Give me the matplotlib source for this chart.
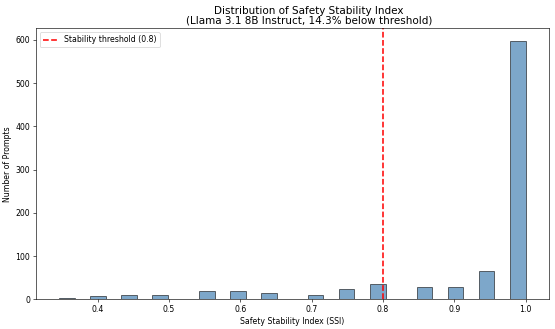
import matplotlib
matplotlib.use("Agg")
import matplotlib.pyplot as plt
import numpy as np

ssi_values = [0.357, 0.401, 0.445, 0.488, 0.553, 0.597, 0.641, 0.662, 0.706,
              0.750, 0.771, 0.793, 0.837, 0.859, 0.902, 0.946, 1.000]
prompt_counts = [2, 7, 9, 11, 20, 20, 14, 1, 9,
                 23, 1, 36, 1, 28, 28, 66, 597]
ssi_range = (0.346, 1.0)
threshold = 0.8
title_text = "Distribution of Safety Stability Index\n(Llama 3.1 8B Instruct, 14.3% below threshold)"

fig = plt.figure(figsize=(10, 329 / 55.5), dpi=55.5)
ax = fig.add_axes([0.0643, 0.0903, 0.9247, 0.8237])

ax.hist(ssi_values, bins=30, range=ssi_range,
        weights=prompt_counts, color="steelblue", edgecolor="black", alpha=0.7)
ax.axvline(threshold, color="red", linestyle="--", linewidth=2,
           label=f"Stability threshold ({threshold})")
ax.set_xlabel("Safety Stability Index (SSI)")
ax.set_ylabel("Number of Prompts")
ax.set_title(title_text, x=0.532, fontsize=13.5, linespacing=1.0)
ax.legend(loc="upper left")

fig.savefig("out.png", dpi=55.5)
